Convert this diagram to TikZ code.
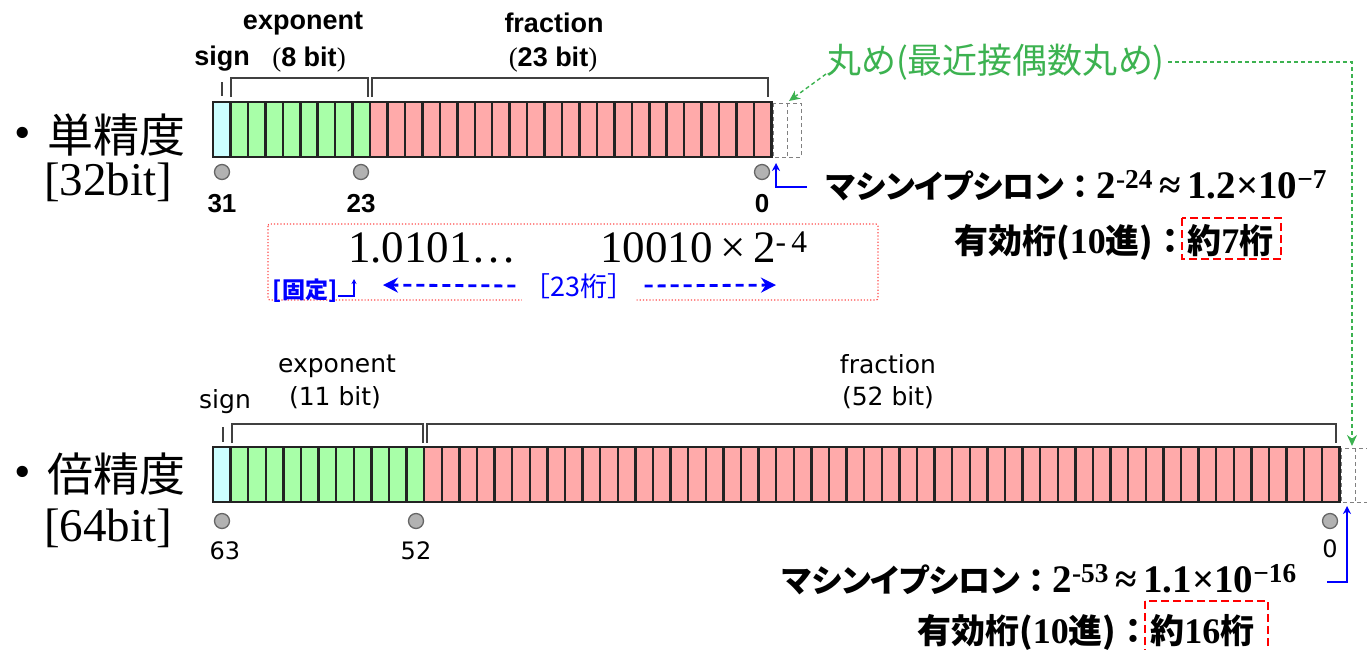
\documentclass[tikz,border=0pt]{standalone}
\usepackage{fontspec}
\setmainfont{Liberation Serif}
\newfontfamily\jp{Noto Sans CJK JP}
\newfontfamily\jpp[RawFeature=+palt]{Noto Sans CJK JP}
\newfontfamily\lsans{Liberation Sans}
\newfontfamily\dsans{DejaVu Sans}
\usetikzlibrary{arrows.meta}
\definecolor{signc}{RGB}{204,255,255}
\definecolor{expc}{RGB}{168,255,168}
\definecolor{fracc}{RGB}{255,170,170}
\definecolor{cellln}{RGB}{35,35,35}
\definecolor{grn}{RGB}{60,178,80}
\definecolor{blu}{RGB}{0,0,255}
\tikzset{
  cellbox/.style={draw=cellln, line width=2.5pt},
  dashcell/.style={draw=gray, line width=1pt, dash pattern=on 4pt off 3pt},
  brk/.style={draw=black!75, line width=1.8pt},
  dot/.style={circle, draw=black!60, fill=black!30, line width=1.3pt, minimum size=15pt, inner sep=0pt},
  toplab/.style={font=\lsans\bfseries\fontsize{27}{30}\selectfont, inner sep=0pt},
  botlab/.style={font=\dsans\fontsize{25}{28}\selectfont, inner sep=0pt},
  topnum/.style={font=\lsans\bfseries\fontsize{26}{28}\selectfont, inner sep=0pt},
  botnum/.style={font=\dsans\fontsize{24}{26}\selectfont, inner sep=0pt},
  ttl/.style={font=\jp\fontsize{46}{50}\selectfont, inner sep=0pt, anchor=base west},
  ttlb/.style={font=\fontsize{47}{50}\selectfont, inner sep=0pt, anchor=base west},
  eps/.style={inner sep=0pt, anchor=base west},
  blarrow/.style={draw=blu, line width=1.6pt, -{Stealth[length=8pt,width=8pt]}},
  grarrow/.style={draw=grn, line width=1.4pt, dash pattern=on 4pt off 3pt, -{Stealth[length=11pt,width=10pt]}},
  redbox/.style={draw=red, line width=2.6pt, dash pattern=on 8pt off 4pt},
  bdash/.style={draw=blu, line width=2.8pt, dash pattern=on 8pt off 5pt, -{Stealth[length=15pt,width=15pt]}}
}
\newcommand{\kata}{\jpp\bfseries\fontsize{32}{36}\selectfont}
\newcommand{\kcol}{\jp\bfseries\fontsize{32}{36}\selectfont}
\newcommand{\lat}{\bfseries\fontsize{39}{42}\selectfont}
\newcommand{\kanj}{\jpp\bfseries\fontsize{34}{38}\selectfont}
\newcommand{\kanc}{\jp\bfseries\fontsize{34}{38}\selectfont}
\newcommand{\latb}{\bfseries\fontsize{36}{40}\selectfont}
\begin{document}
\begin{tikzpicture}[x=1pt,y=-1pt]
\useasboundingbox (0,0) rectangle (1367,649);
% ---------- single precision bar ----------
\def\wa{17.45}
\foreach \i in {0,...,31}{
  \pgfmathsetmacro\xa{213+\i*\wa}
  \ifnum\i=0 \def\cc{signc}\else\ifnum\i<9 \def\cc{expc}\else\def\cc{fracc}\fi\fi
  \fill[\cc] (\xa,102) rectangle ++(\wa,55);
  \draw[cellbox] (\xa,102) rectangle ++(\wa,55);
}
\draw[dashcell] (773,103) rectangle (801,157);
\draw[dashcell] (787,103) -- (787,157);
% brackets
\draw[brk] (222,82) -- (222,96);
\draw[brk] (231,97) -- (231,78) -- (368,78) -- (368,97);
\draw[brk] (372,97) -- (372,78) -- (768,78) -- (768,97);
% labels
\node[toplab] (sgn1) at (222,59) {sign};
\node[toplab] (exp1) at (303,23) {exponent};
\node[toplab] (expb1) at (309,60) {{\rmfamily\mdseries (}8 bit{\rmfamily\mdseries )}};
\node[toplab] (fr1) at (554,23) {fraction};
\node[toplab] (frb1) at (553,60) {{\rmfamily\mdseries (}23 bit{\rmfamily\mdseries )}};
% dots
\node[dot] (d31) at (222,172) {};
\node[dot] (d23) at (361,172) {};
\node[dot] (d0a) at (762,172) {};
\node[topnum] (n31) at (222,204) {31};
\node[topnum] (n23) at (361,204) {23};
\node[topnum] (n0a) at (762,204) {0};
% title
\node[ttlb] (b1) at (14,148) {•};
\node[ttl] (t1) at (47,152) {単精度};
\node[ttlb] (t1b) at (44,195) {[32bit]};
% machine epsilon
\node[eps] (e1) at (826,198) {{\kata マシンイプシロン}{\kcol ：}{\lat 2\textsuperscript{-24}\,≈\,1.2×10\textsuperscript{−7}}};
\node[eps] (g1) at (954,253) {{\kanj 有効桁(}{\latb 10}{\kanj 進)}{\kanc ：}{\kanj 約}{\latb 7}{\kanj 桁}};
\draw[redbox] (1182,218) rectangle (1281,259);
\coordinate (ea) at (807,187);
\coordinate (eb) at (776,163);
\draw[blarrow] (ea) -- (eb |- ea) -- (eb);
% rounding
\node[font=\jpp\fontsize{35}{38}\selectfont, text=grn, inner sep=0pt, anchor=west] (rnd) at (826,62) {丸め(最近接偶数丸め)};
\coordinate (ra) at (826,74);
\coordinate (rb) at (789,101);
\draw[grarrow] (ra) -- (rb);
\coordinate (rc) at (1352,446);
\draw[grarrow] ([xshift=3pt]rnd.east) -- (rc |- rnd.east) -- (rc);
% mantissa example
\draw[draw=red!70, line width=1.2pt, dotted, rounded corners=2pt] (268,224) rectangle (878,300);
\node[font=\fontsize{45}{50}\selectfont, inner sep=0pt, anchor=base west] (m1) at (348,262) {1.0101…};
\node[font=\fontsize{45}{50}\selectfont, inner sep=0pt, anchor=base west] (m2) at (600,262) {10010\,×\,2\textsuperscript{-\,4}};
\node[font=\jp\bfseries\fontsize{23}{26}\selectfont, text=blu, inner sep=0pt] (fix) at (305,291) {[固定]};
\coordinate (fa) at (354,279);
\draw[draw=blu, line width=1.3pt, -{Stealth[length=5pt,width=5pt]}] (fix.east) ++(1,5) -| (fa);
\node[font=\jp\fontsize{27}{30}\selectfont, text=blu, fill=white, inner sep=2pt] (d23k) at (579,286) {［23桁］};
\coordinate (la) at (383,285);
\coordinate (lb) at (776,285);
\draw[bdash] (d23k.west) ++(-6,0) -- (la);
\draw[bdash] (d23k.east) ++(8,0) -- (lb);
% ---------- double precision bar ----------
\def\wb{17.6}
\foreach \i in {0,...,63}{
  \pgfmathsetmacro\xa{213+\i*\wb}
  \ifnum\i=0 \def\cc{signc}\else\ifnum\i<12 \def\cc{expc}\else\def\cc{fracc}\fi\fi
  \fill[\cc] (\xa,447) rectangle ++(\wb,55);
  \draw[cellbox] (\xa,447) rectangle ++(\wb,55);
}
\draw[dashcell] (1341,448) rectangle (1368,502);
\draw[dashcell] (1355,448) -- (1355,502);
\draw[brk] (223,427) -- (223,442);
\draw[brk] (232,443) -- (232,424) -- (423,424) -- (423,443);
\draw[brk] (427,443) -- (427,424) -- (1336,424) -- (1336,443);
\node[botlab] (sgn2) at (225,402) {sign};
\node[botlab] (exp2) at (337,366) {exponent};
\node[botlab] (expb2) at (335,398) {(11 bit)};
\node[botlab] (fr2) at (888,364) {fraction};
\node[botlab] (frb2) at (888,398) {(52 bit)};
\node[dot] (d63) at (222,521) {};
\node[dot] (d52) at (416,521) {};
\node[dot] (d0b) at (1330,521) {};
\node[botnum] (n63) at (225,551) {63};
\node[botnum] (n52) at (416,551) {52};
\node[botnum] (n0b) at (1330,549) {0};
\node[ttlb] (b2) at (14,487) {•};
\node[ttl] (t2) at (47,491) {倍精度};
\node[ttlb] (t2b) at (44,541) {[64bit]};
\node[eps] (e2) at (782,592) {{\kata マシンイプシロン}{\kcol ：}{\lat 2\textsuperscript{-53}\,≈\,1.1×10\textsuperscript{−16}}};
\node[eps] (g2) at (917,643) {{\kanj 有効桁(}{\latb 10}{\kanj 進)}{\kanc ：}{\kanj 約}{\latb 16}{\kanj 桁}};
\draw[redbox] (1145,601) rectangle (1268,652);
\coordinate (fa2) at (1327,582);
\coordinate (fb2) at (1347,506);
\draw[blarrow] (fa2) -- (fb2 |- fa2) -- (fb2);
\end{tikzpicture}
\end{document}
